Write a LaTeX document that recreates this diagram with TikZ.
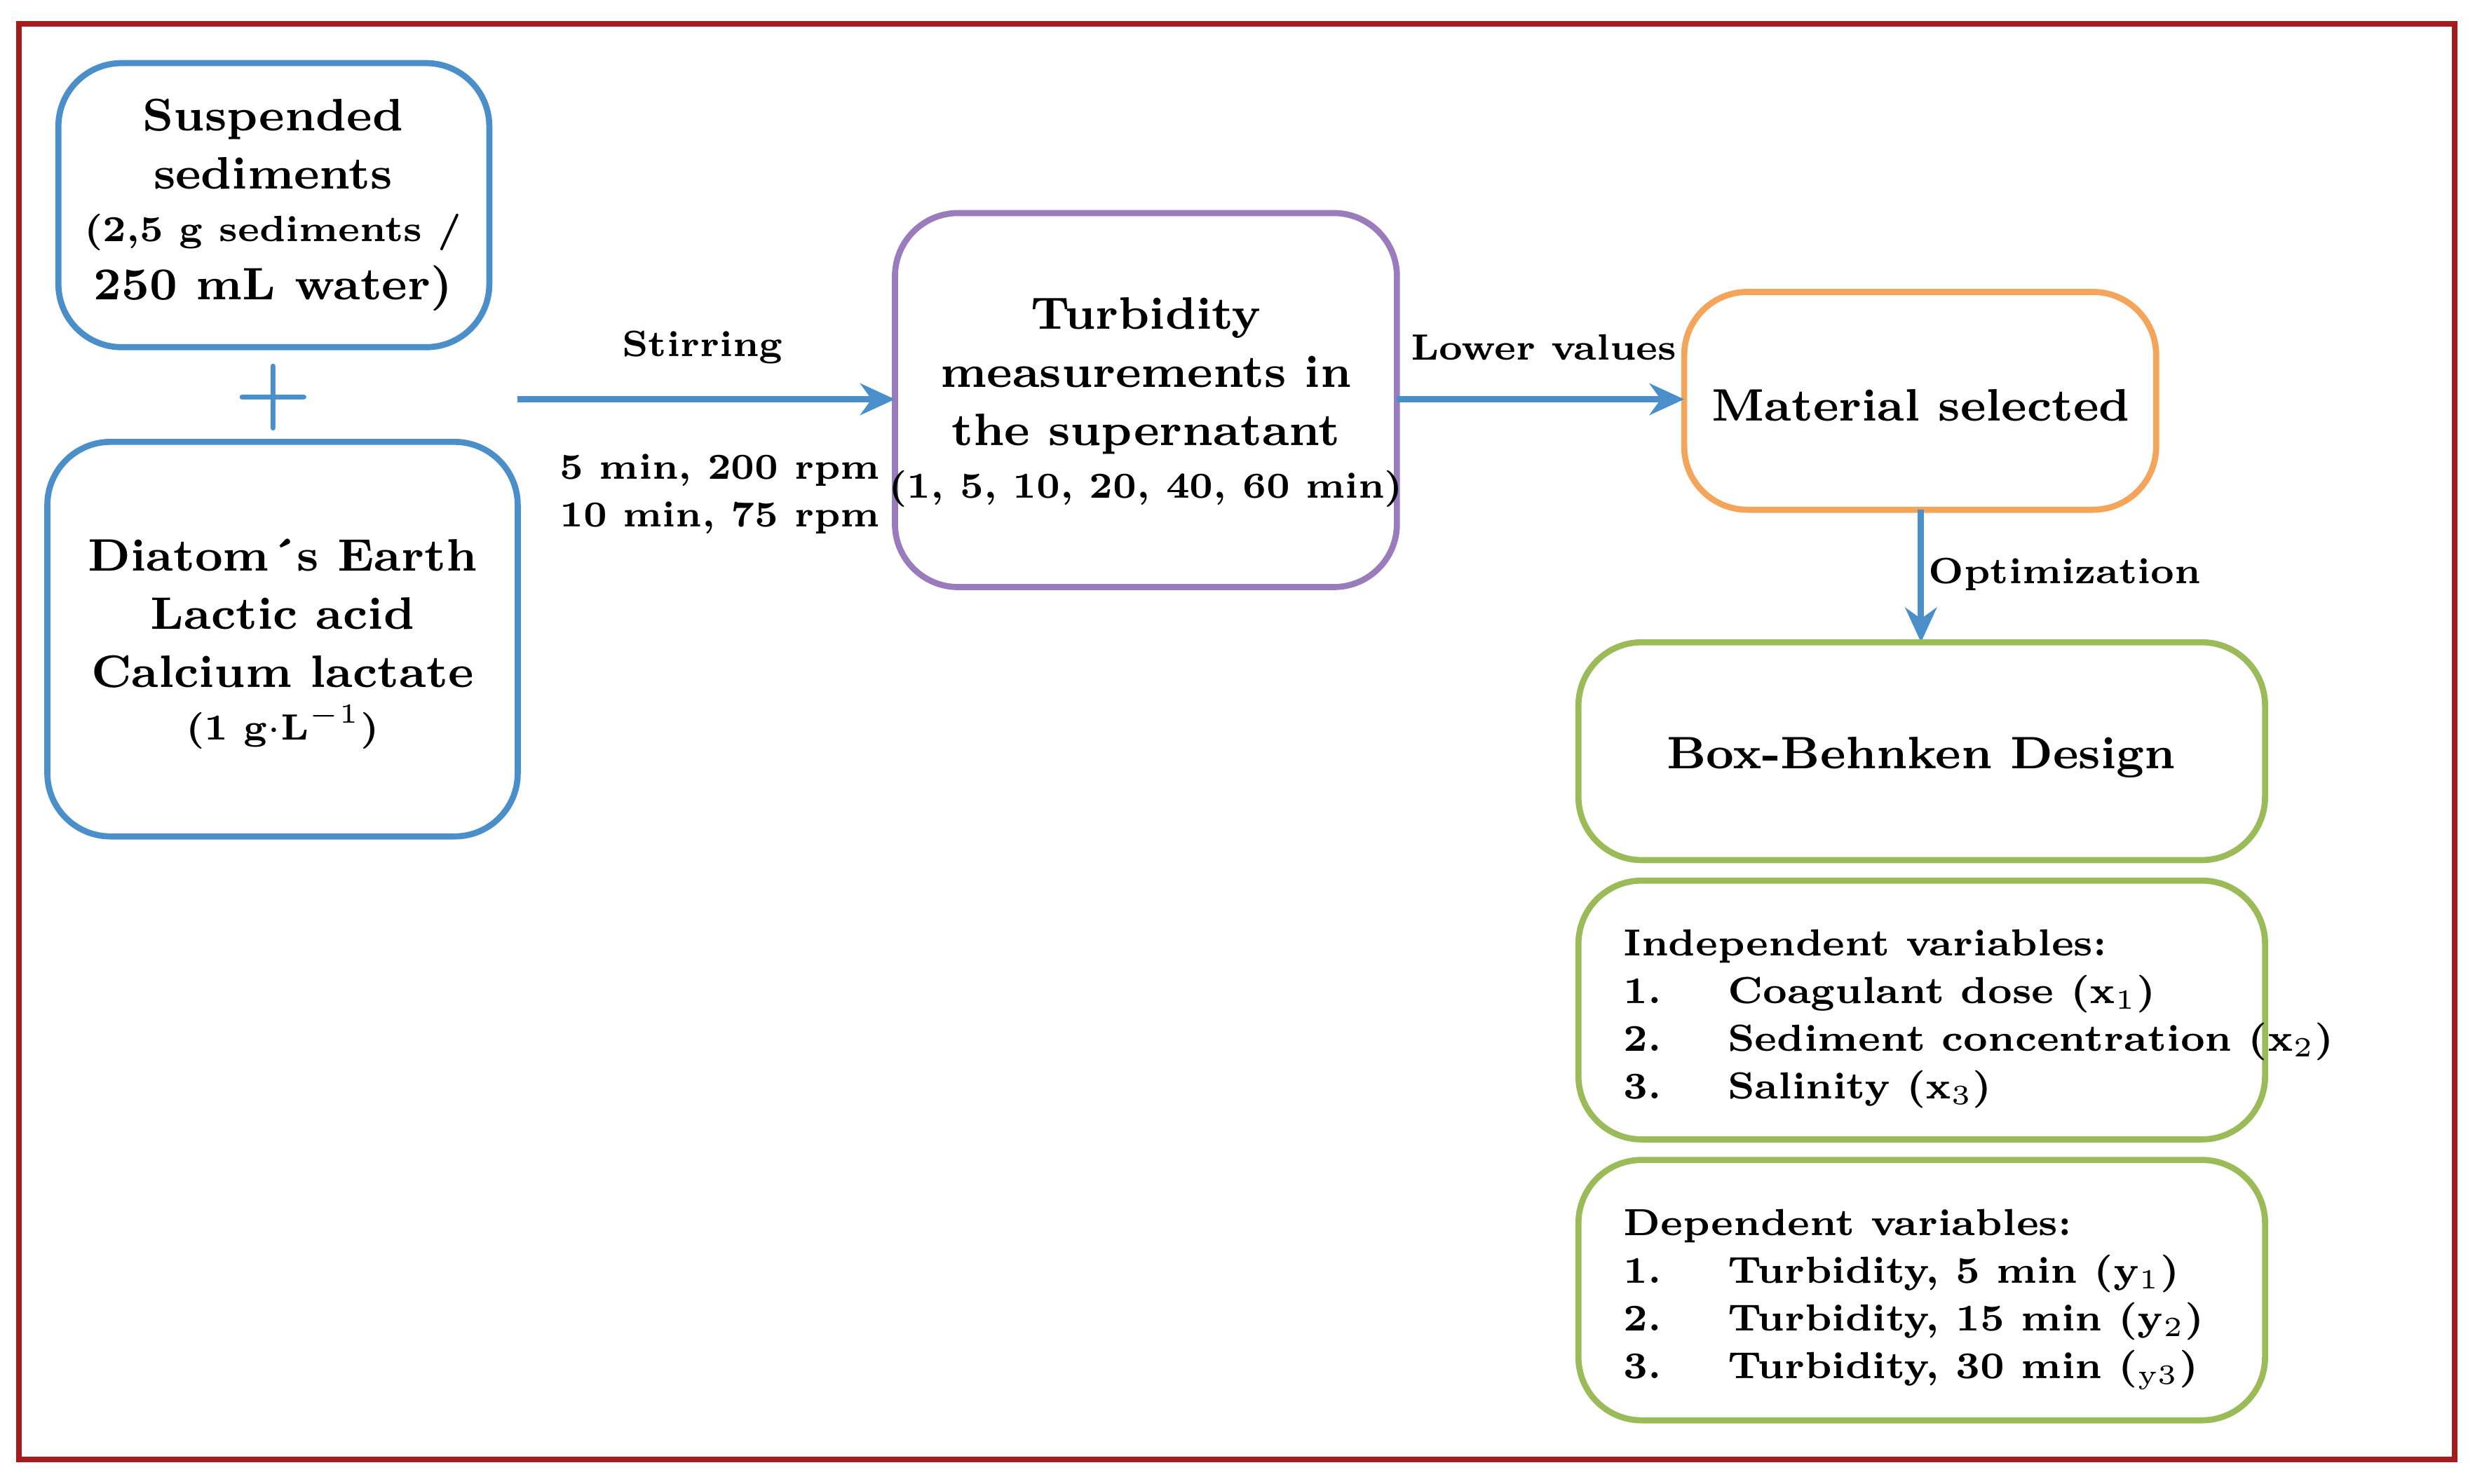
\documentclass[tikz,border=0pt]{standalone}
\usepackage{tikz}
\usetikzlibrary{arrows.meta}
\begin{document}
\begin{tikzpicture}[x=0.1mm,y=-0.1mm,
  bx/.style={draw=#1,line width=1.1pt,rounded corners=4mm},
  big/.style={font=\fontsize{8.2}{10.5}\selectfont\bfseries,align=center},
  sm/.style={font=\fontsize{6.6}{8.5}\selectfont\bfseries,align=center},
  arr/.style={draw=cblue,line width=1.1pt,-{Stealth[length=2.2mm,width=2mm]}}]
\definecolor{cblue}{HTML}{4A8FC9}
\definecolor{cpurp}{HTML}{9A7CBD}
\definecolor{corg}{HTML}{F5A55A}
\definecolor{cgrn}{HTML}{9BBB59}
\definecolor{cred}{HTML}{A51C1C}
\useasboundingbox (0,0) rectangle (1568,940);
\draw[cred,line width=1pt] (12,15) rectangle (1555,925);
\draw[bx=cblue] (37,40) rectangle (310,220);
\node[big] (ss) at (173,130) {Suspended\\sediments\\[-1pt]\fontsize{6.6}{9}\selectfont (2,5 g sediments /\\250 mL water)};
\node[text=cblue,font=\fontsize{16}{16}\selectfont\bfseries] (plus) at (173,252) {+};
\draw[bx=cblue] (30,280) rectangle (328,530);
\node[big] (de) at (179,408) {Diatom\'{}s Earth\\Lactic acid\\Calcium lactate\\[-1pt]\fontsize{6.6}{8}\selectfont (1 g$\cdot$L$^{-1}$)};
\coordinate (a1) at (328,253);
\draw[bx=cpurp] (567,135) rectangle (885,372);
\coordinate (tl) at (567,253);
\node[big] (tm) at (726,255) {Turbidity\\measurements in\\the supernatant\\[-1pt]\fontsize{6.6}{8}\selectfont (1, 5, 10, 20, 40, 60 min)};
\draw[arr] (a1) -- (tl);
\node[sm] (st) at (445,220) {Stirring};
\node[sm] (sp) at (456,313) {5 min, 200 rpm\\10 min, 75 rpm};
\coordinate (tr) at (885,253);
\draw[bx=corg] (1067,185) rectangle (1366,323);
\node[big] (ms) at (1217,257) {Material selected};
\coordinate (ml) at (1067,253);
\draw[arr] (tr) -- (ml);
\node[sm] (lv) at (978,220) {Lower values};
\coordinate (mb) at (1217,323);
\coordinate (bt) at (1217,407);
\draw[arr] (mb) -- (bt);
\node[sm] (op) at (1308,364) {Optimization};
\draw[bx=cgrn] (1000,407) rectangle (1435,545);
\node[big] (bb) at (1217,480) {Box-Behnken Design};
\draw[bx=cgrn] (1000,558) rectangle (1435,722);
\node[anchor=west,font=\fontsize{6.8}{8.6}\selectfont\bfseries] (iv) at (1016,645) {\begin{tabular}{@{}l@{\hspace{4.2mm}}l@{}}
\multicolumn{2}{@{}l}{Independent variables:}\\
1. & Coagulant dose (x$_1$)\\
2. & Sediment concentration (x$_2$)\\
3. & Salinity (x$_3$)
\end{tabular}};
\draw[bx=cgrn] (1000,735) rectangle (1435,900);
\node[anchor=west,font=\fontsize{6.8}{8.6}\selectfont\bfseries] (dv) at (1016,822) {\begin{tabular}{@{}l@{\hspace{4.2mm}}l@{}}
\multicolumn{2}{@{}l}{Dependent variables:}\\
1. & Turbidity, 5 min (y$_1$)\\
2. & Turbidity, 15 min (y$_2$)\\
3. & Turbidity, 30 min ($_{\mathrm{y3}}$)
\end{tabular}};
\end{tikzpicture}
\end{document}
